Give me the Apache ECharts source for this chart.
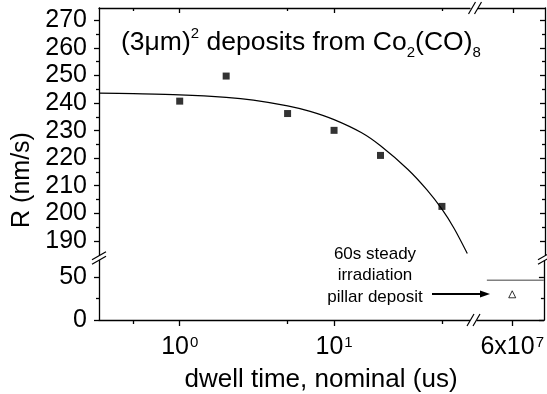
<!DOCTYPE html>
<html>
<head>
<meta charset="utf-8">
<script src="https://cdn.jsdelivr.net/npm/echarts@6/dist/echarts.min.js"></script>
<style>
  html, body { margin: 0; padding: 0; background: #fff; }
  #chart { width: 547px; height: 394px; }
</style>
</head>
<body>
<div id="chart"></div>
<script>
// Deposition rate R (nm/s) of (3 um)^2 deposits versus nominal dwell time (us)
const dwellTimes = [1, 2, 5, 10, 20, 50];
const rates = [240.7, 249.8, 236.2, 230.1, 221.0, 202.5];

// Model curve, sampled at a set of dwell times
const fitTimes = [0.3, 0.5, 1, 2, 3, 5, 7, 10, 15, 20, 30, 40, 50, 60, 73];
const fitRates = [243.6, 243.4, 243.0, 242.1, 241.1, 239.0, 237.0, 234.0, 229.3, 224.5, 216.0, 208.5, 201.5, 194.5, 185.4];

// 60 s steady irradiation pillar deposit
const pillarTimes = [6e7];
const pillarRates = [30];
const pillarLevelTimes = [4.56e7, 7.8e7];
const pillarLevelRates = [46.5, 46.5];

// Tick values
const upperMajorTicks = [190, 200, 210, 220, 230, 240, 250, 260, 270];
const upperMinorTicks = [195, 205, 215, 225, 235, 245, 255, 265];
const lowerMajorTicks = [0, 50];
const lowerMinorTicks = [25];
const logMajorTicks = [1, 10];
const logMinorTicks = [0.5, 5, 50];
const farTicks = [6e7];

const FONT = 'Liberation Sans, Arial, Helvetica, sans-serif';
const INK = '#000';
const AXIS_LINE = { color: INK, width: 1.3 };

// Layout of the four panels of the broken-axis plot
const LEFT = 99, MID_L = 470, MID_R = 477, RIGHT = 545;
const TOP = 8, BRK_T = 256, BRK_B = 260, BOTTOM = 320;

const X_LOG = { min: 0.3, max: 76 };
const X_FAR = { min: 4e7, max: 7.8e7 };
const Y_UP = { min: 184.5, max: 274.5 };
const Y_LOW = { min: 0, max: 70 };

// Power-of-ten tick labels: base digits plus a raised exponent
const supRich = {
  b: { fontSize: 25, lineHeight: 25, fontFamily: FONT, color: INK },
  s: { fontSize: 15, lineHeight: 15, padding: [0, 0, 9, 1], fontFamily: FONT, color: INK, verticalAlign: 'top' }
};

function powerLabel(v) {
  const e = Math.floor(Math.log10(v) + 1e-9);
  const m = Math.round(v / Math.pow(10, e));
  return '{b|' + (m === 1 ? '' : m + 'x') + '10}{s|' + e + '}';
}

function axis(o) {
  const a = {
    type: o.type || 'value',
    gridIndex: o.grid,
    position: o.position,
    min: o.range.min,
    max: o.range.max,
    axisLine: { show: !!o.line, onZero: false, lineStyle: AXIS_LINE },
    axisTick: {
      show: true,
      inside: !!o.inside,
      length: o.tickLen,
      customValues: o.ticks,
      lineStyle: AXIS_LINE
    },
    axisLabel: o.labels ? Object.assign({
      show: true,
      customValues: o.ticks,
      color: INK,
      fontFamily: FONT,
      fontSize: 25
    }, o.labelExtra || {}) : { show: false },
    splitLine: { show: false },
    minorTick: { show: false },
    silent: true
  };
  if (a.type === 'log') a.logBase = 10;
  return a;
}

const xAxes = [
  axis({ type: 'log', grid: 0, position: 'top', range: X_LOG, line: true, inside: true, tickLen: 5, ticks: logMajorTicks }),
  axis({ type: 'log', grid: 0, position: 'top', range: X_LOG, inside: true, tickLen: 3, ticks: logMinorTicks }),
  axis({ type: 'log', grid: 1, position: 'bottom', range: X_LOG, line: true, tickLen: 6, ticks: logMajorTicks, labels: true,
         labelExtra: { margin: 15, formatter: powerLabel, rich: supRich } }),
  axis({ type: 'log', grid: 1, position: 'bottom', range: X_LOG, tickLen: 4, ticks: logMinorTicks }),
  axis({ grid: 2, position: 'top', range: X_FAR, line: true, inside: true, tickLen: 5, ticks: farTicks }),
  axis({ grid: 3, position: 'bottom', range: X_FAR, line: true, tickLen: 6, ticks: farTicks, labels: true,
         labelExtra: { margin: 15, formatter: powerLabel, rich: supRich } })
];

const yAxes = [
  axis({ grid: 0, position: 'left', range: Y_UP, line: true, tickLen: 5, ticks: upperMajorTicks, labels: true, labelExtra: { margin: 12 } }),
  axis({ grid: 0, position: 'left', range: Y_UP, tickLen: 3, ticks: upperMinorTicks }),
  axis({ grid: 1, position: 'left', range: Y_LOW, line: true, tickLen: 5, ticks: lowerMajorTicks, labels: true, labelExtra: { margin: 12 } }),
  axis({ grid: 1, position: 'left', range: Y_LOW, tickLen: 3, ticks: lowerMinorTicks }),
  axis({ grid: 2, position: 'right', range: Y_UP, line: true, inside: true, tickLen: 5, ticks: upperMajorTicks }),
  axis({ grid: 2, position: 'right', range: Y_UP, inside: true, tickLen: 3, ticks: upperMinorTicks }),
  axis({ grid: 3, position: 'right', range: Y_LOW, line: true, inside: true, tickLen: 5, ticks: lowerMajorTicks }),
  axis({ grid: 3, position: 'right', range: Y_LOW, inside: true, tickLen: 3, ticks: lowerMinorTicks })
];

const zip = (xs, ys) => xs.map((x, i) => [x, ys[i]]);

// Axis-break marks: a white band between two short parallel strokes
function breakMark(cx, cy, vertical) {
  // vertical: break on a vertical axis (strokes nearly horizontal)
  const a = vertical ? [[cx - 7, cy + 1.75], [cx + 7, cy - 6.25]] : [[cx - 6.5, cy + 6], [cx + 0.5, cy - 6]];
  const b = vertical ? [[cx - 7, cy + 6.25], [cx + 7, cy - 1.75]] : [[cx - 0.5, cy + 6], [cx + 6.5, cy - 6]];
  return [
    { type: 'polygon', z: 50, silent: true,
      shape: { points: [a[0], a[1], b[1], b[0]] }, style: { fill: '#fff', stroke: null } },
    { type: 'line', z: 51, silent: true,
      shape: { x1: a[0][0], y1: a[0][1], x2: a[1][0], y2: a[1][1] }, style: { stroke: INK, lineWidth: 1.2 } },
    { type: 'line', z: 51, silent: true,
      shape: { x1: b[0][0], y1: b[0][1], x2: b[1][0], y2: b[1][1] }, style: { stroke: INK, lineWidth: 1.2 } }
  ];
}

const breakY = (BRK_T + BRK_B) / 2;
const breakX = (MID_L + MID_R) / 2;

const graphics = [].concat(
  breakMark(LEFT, breakY, true),
  breakMark(RIGHT, breakY, true),
  breakMark(breakX + 1.5, TOP, false),
  breakMark(breakX, BOTTOM, false),
  [
    // annotation arrow
    { type: 'line', z: 40, silent: true,
      shape: { x1: 432, y1: 294, x2: 482, y2: 294 }, style: { stroke: INK, lineWidth: 2.2 } },
    { type: 'polygon', z: 40, silent: true,
      shape: { points: [[490, 294], [480, 290.5], [480, 297.5]] }, style: { fill: INK } },
    { type: 'text', z: 40, silent: true, x: 375, y: 243.5,
      style: { text: '60s steady\nirradiation\npillar deposit', fill: INK,
               fontSize: 17, fontFamily: FONT, lineHeight: 21.5, align: 'center', verticalAlign: 'top' } },
    // axis titles
    { type: 'text', z: 40, silent: true, x: 321, y: 380,
      style: { text: 'dwell time, nominal (us)', fill: INK, fontSize: 26, fontFamily: FONT,
               align: 'center', verticalAlign: 'middle' } },
    { type: 'text', z: 40, silent: true, x: 22, y: 180, rotation: Math.PI / 2,
      style: { text: 'R (nm/s)', fill: INK, fontSize: 25, fontFamily: FONT,
               align: 'center', verticalAlign: 'middle' } }
  ]
);

const chart = echarts.init(document.getElementById('chart'), null, { renderer: 'canvas' });
chart.setOption({
  animation: false,
  backgroundColor: '#fff',
  title: {
    text: '(3\u03bcm){sup|2} deposits from Co{sub|2}(CO){sub|8}',
    left: 121,
    top: 26,
    padding: 0,
    textStyle: {
      fontFamily: FONT, fontSize: 26.5, fontWeight: 'normal', color: INK, lineHeight: 34,
      rich: {
        sup: { fontFamily: FONT, fontSize: 15, lineHeight: 25, color: INK, verticalAlign: 'top' },
        sub: { fontFamily: FONT, fontSize: 15, lineHeight: 10, color: INK, verticalAlign: 'bottom' }
      }
    }
  },
  grid: [
    { left: LEFT, top: TOP, width: MID_L - LEFT, height: BRK_T - TOP },
    { left: LEFT, top: BRK_B, width: MID_L - LEFT, height: BOTTOM - BRK_B },
    { left: MID_R, top: TOP, width: RIGHT - MID_R, height: BRK_T - TOP },
    { left: MID_R, top: BRK_B, width: RIGHT - MID_R, height: BOTTOM - BRK_B }
  ],
  xAxis: xAxes,
  yAxis: yAxes,
  series: [
    {
      name: 'model', type: 'line', xAxisIndex: 0, yAxisIndex: 0,
      data: zip(fitTimes, fitRates), showSymbol: false, smooth: 0.3, silent: true,
      lineStyle: { color: INK, width: 1.2 }
    },
    {
      name: 'deposits', type: 'scatter', xAxisIndex: 0, yAxisIndex: 0,
      data: zip(dwellTimes, rates), symbol: 'rect', symbolSize: 7, silent: true,
      itemStyle: { color: INK }
    },
    {
      name: 'pillar level', type: 'line', xAxisIndex: 5, yAxisIndex: 6,
      data: zip(pillarLevelTimes, pillarLevelRates), showSymbol: false, silent: true,
      lineStyle: { color: '#808080', width: 1.5 }
    },
    {
      name: 'pillar', type: 'scatter', xAxisIndex: 5, yAxisIndex: 6,
      data: zip(pillarTimes, pillarRates), symbol: 'triangle', symbolSize: 7, silent: true,
      itemStyle: { color: '#fff', borderColor: INK, borderWidth: 1 }
    }
  ],
  graphic: graphics
});
</script>
</body>
</html>
